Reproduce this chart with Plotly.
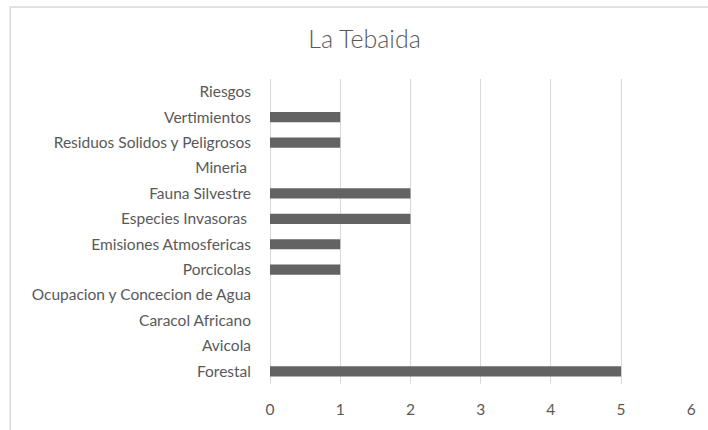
import plotly.graph_objects as go

categories = ["Forestal", "Avicola", "Caracol Africano", "Ocupacion y Concecion de Agua",
              "Porcicolas", "Emisiones Atmosfericas", "Especies Invasoras ", "Fauna Silvestre",
              "Mineria ", "Residuos Solidos y Peligrosos", "Vertimientos", "Riesgos"]
values = [5, 0, 0, 0, 1, 1, 2, 2, 0, 1, 1, 0]
x_ticks = [0, 1, 2, 3, 4, 5, 6]
title_text = "La Tebaida"

FONT = "Lato"
GRAY = "#595959"

fig = go.Figure(go.Bar(
    x=values, y=categories, orientation="h",
    marker=dict(color="#636363", line=dict(width=0)),
    hoverinfo="x+y",
))

fig.update_layout(
    width=708, height=430,
    margin=dict(l=270, r=14, t=79, b=42),
    paper_bgcolor="white", plot_bgcolor="white",
    bargap=0.6,
    showlegend=False,
    font=dict(family=FONT, size=15.5, color=GRAY),
    title=dict(text=title_text, x=(365 - 270) / 424, xref="paper", xanchor="center",
               y=1 - 39 / 430, yref="container", yanchor="middle",
               font=dict(family=FONT, size=25, color=GRAY, weight=300)),
    xaxis=dict(range=[0, 6.01], tickvals=x_ticks, showgrid=True, gridcolor="#d9d9d9",
               gridwidth=1, zeroline=True, zerolinecolor="#d9d9d9", zerolinewidth=1,
               showline=False, ticks="",
               ticklabelstandoff=14, tickfont=dict(size=15.5, color=GRAY), fixedrange=True),
    yaxis=dict(categoryorder="array", categoryarray=categories, showgrid=False,
               zeroline=False, showline=False, ticks="", ticklabelstandoff=18,
               tickfont=dict(size=15.5, color=GRAY), range=[-0.5, 11.5], fixedrange=True),
    shapes=[dict(type="rect", xref="paper", yref="paper",
                 x0=(9 - 270) / 424, x1=1.2, y0=-0.3, y1=(388 - 6) / 309,
                 line=dict(color="#d9d9d9", width=1.5), fillcolor="rgba(0,0,0,0)",
                 layer="below")],
)

fig.write_html("out.html", config={"displayModeBar": False},
               post_script="document.body.style.margin='0px';")
